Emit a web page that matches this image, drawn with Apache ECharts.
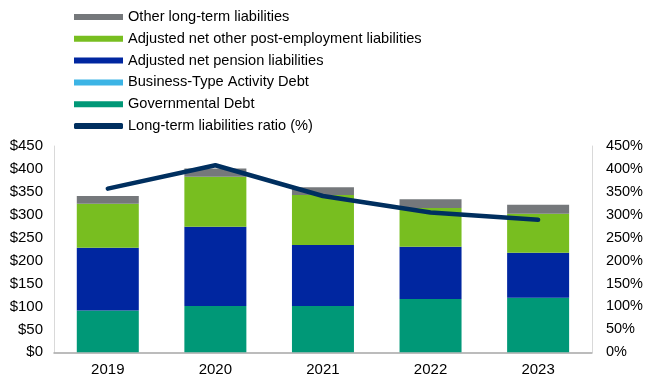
<!DOCTYPE html>
<html>
<head>
<meta charset="utf-8">
<script src="https://cdn.jsdelivr.net/npm/echarts@6/dist/echarts.min.js"></script>
<style>
  html, body { margin: 0; padding: 0; background: #fff; }
  #chart { width: 646px; height: 379px; }
</style>
</head>
<body>
<div id="chart"></div>
<script>
// Fiscal years on the category axis
const years = ['2019', '2020', '2021', '2022', '2023'];

// Long-term liabilities by component ($ millions)
const governmentalDebt = [91, 101, 101, 116, 119];
const businessTypeDebt = [0, 0, 0, 0, 0];
const netPension = [137, 173, 133, 114, 98];
const netOpeb = [96, 109, 109, 85, 85];
const otherLongTerm = [17, 18, 17, 19, 20];

// Long-term liabilities ratio (%)
const ratioPct = [357, 408, 341, 305, 289];

// Axis tick labels
const leftTicks = ['$0', '$50', '$100', '$150', '$200', '$250', '$300', '$350', '$400', '$450'];
const rightTicks = ['0%', '50%', '100%', '150%', '200%', '250%', '300%', '350%', '400%', '450%'];

const FONT = '"Liberation Sans", Arial, sans-serif';
const colors = {
  gov: '#009877',
  bta: '#3cb4e5',
  pension: '#0026a0',
  opeb: '#78be20',
  other: '#75787b',
  ratio: '#002f5f'
};

const chart = echarts.init(document.getElementById('chart'), null, { renderer: 'canvas' });

function barSeries(name, data, color) {
  return {
    name: name,
    type: 'bar',
    stack: 'total',
    yAxisIndex: 0,
    barWidth: 62,
    data: data,
    itemStyle: { color: color },
    emphasis: { disabled: true }
  };
}

chart.setOption({
  animation: false,
  textStyle: { fontFamily: FONT },
  legend: {
    orient: 'vertical',
    left: 69,
    top: 4.5,
    itemWidth: 49,
    itemHeight: 6,
    itemGap: 6.8,
    textStyle: { fontFamily: FONT, fontSize: 14.6, color: '#000' },
    data: [
      { name: 'Other long-term liabilities', icon: 'rect' },
      { name: 'Adjusted net other post-employment liabilities', icon: 'rect' },
      { name: 'Adjusted net pension liabilities', icon: 'rect' },
      { name: 'Business-Type Activity Debt', icon: 'rect' },
      { name: 'Governmental Debt', icon: 'rect' },
      { name: 'Long-term liabilities ratio (%)', icon: 'roundRect', itemStyle: { color: colors.ratio } }
    ],
    selectedMode: false
  },
  grid: { left: 54, right: 50, top: 146, bottom: 26.7, containLabel: false },
  xAxis: {
    type: 'category',
    data: years,
    axisLine: { show: true, lineStyle: { color: '#a6a6a6', width: 1.5 } },
    axisTick: { show: false },
    axisLabel: { fontFamily: FONT, fontSize: 15, color: '#000', margin: 10 }
  },
  yAxis: [
    {
      type: 'value',
      min: 0,
      max: 450,
      interval: 50,
      position: 'left',
      axisLine: { show: true, lineStyle: { color: '#d9d9d9', width: 1 } },
      axisTick: { show: false },
      splitLine: { show: false },
      axisLabel: {
        fontFamily: FONT, fontSize: 15, color: '#000', margin: 11,
        formatter: (v) => leftTicks[Math.round(v / 50)]
      }
    },
    {
      type: 'value',
      min: 0,
      max: 450,
      interval: 50,
      position: 'right',
      axisLine: { show: true, lineStyle: { color: '#d9d9d9', width: 1 } },
      axisTick: { show: false },
      splitLine: { show: false },
      axisLabel: {
        fontFamily: FONT, fontSize: 14.5, color: '#000', margin: 14,
        formatter: (v) => rightTicks[Math.round(v / 50)]
      }
    }
  ],
  series: [
    barSeries('Governmental Debt', governmentalDebt, colors.gov),
    barSeries('Business-Type Activity Debt', businessTypeDebt, colors.bta),
    barSeries('Adjusted net pension liabilities', netPension, colors.pension),
    barSeries('Adjusted net other post-employment liabilities', netOpeb, colors.opeb),
    barSeries('Other long-term liabilities', otherLongTerm, colors.other),
    {
      name: 'Long-term liabilities ratio (%)',
      type: 'line',
      yAxisIndex: 1,
      data: ratioPct,
      showSymbol: false,
      symbol: 'none',
      lineStyle: { color: colors.ratio, width: 4.5, cap: 'round', join: 'round' },
      itemStyle: { color: colors.ratio },
      emphasis: { disabled: true },
      z: 5
    }
  ]
});
</script>
</body>
</html>
